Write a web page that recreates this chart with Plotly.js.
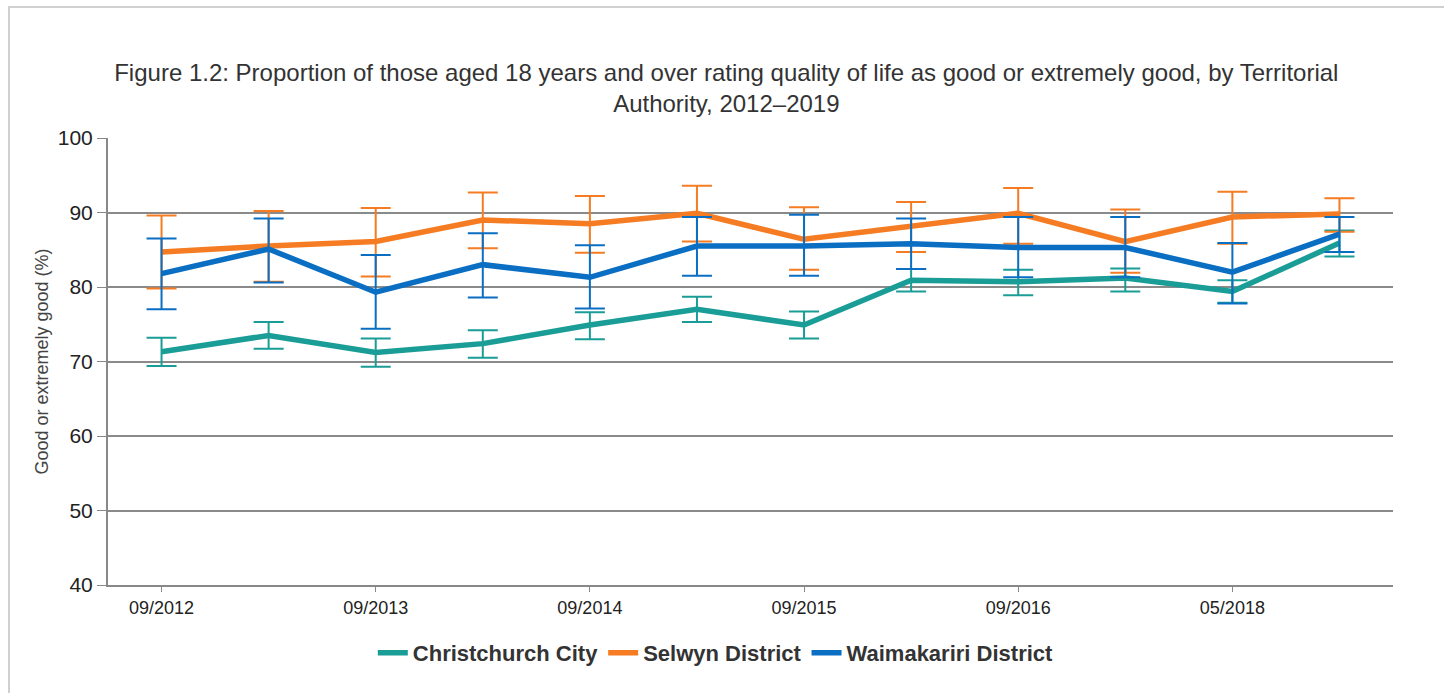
<!DOCTYPE html>
<html><head><meta charset="utf-8">
<script src="https://cdn.plot.ly/plotly-3.0.1.min.js"></script>
<style>
html,body{margin:0;padding:0;background:#fff;}
#frame{position:absolute;left:8px;top:6px;width:1440px;height:700px;border:2px solid #d0d0d0;border-right:none;border-bottom:none;box-sizing:border-box;}
#chart{position:absolute;left:0;top:0;width:1444px;height:693px;}
</style></head>
<body>
<div id="frame"></div>
<div id="chart"></div>
<script>
const categories = ["09/2012","03/2013","09/2013","03/2014","09/2014","03/2015","09/2015","03/2016","09/2016","03/2017","05/2018","2019"];
const tickLabels = ["09/2012","09/2013","09/2014","09/2015","09/2016","05/2018"];

const chchValues = [71.3, 73.5, 71.2, 72.4, 74.9, 77.0, 74.9, 80.9, 80.7, 81.2, 79.4, 85.9];
const chchUpper  = [73.2, 75.3, 73.1, 74.2, 76.6, 78.7, 76.7, 82.4, 82.3, 82.5, 80.9, 87.6];
const chchLower  = [69.4, 71.7, 69.3, 70.5, 73.0, 75.3, 73.1, 79.4, 78.9, 79.4, 77.9, 84.1];

const selwynValues = [84.7, 85.5, 86.1, 89.0, 88.5, 89.9, 86.4, 88.1, 89.9, 86.1, 89.4, 89.8];
const selwynUpper  = [89.6, 90.2, 90.6, 92.7, 92.2, 93.6, 90.7, 91.4, 93.3, 90.4, 92.8, 91.9];
const selwynLower  = [79.8, 80.7, 81.4, 85.2, 84.6, 86.1, 82.3, 84.7, 85.8, 81.9, 85.8, 87.4];

const waimakValues = [81.8, 85.1, 79.3, 83.0, 81.3, 85.5, 85.5, 85.8, 85.3, 85.3, 82.0, 87.1];
const waimakUpper  = [86.5, 89.2, 84.3, 87.2, 85.6, 89.4, 89.7, 89.2, 89.4, 89.4, 85.9, 89.4];
const waimakLower  = [77.0, 80.6, 74.4, 78.6, 77.1, 81.5, 81.5, 82.4, 81.3, 81.3, 77.8, 84.7];

function mk(name, vals, up, lo, color){
  return {
    type:'scatter', mode:'lines', name:name, x:categories, y:vals,
    line:{color:color, width:5.5},
    error_y:{type:'data', symmetric:false,
      array: up.map((u,i)=>+(u-vals[i]).toFixed(2)),
      arrayminus: lo.map((l,i)=>+(vals[i]-l).toFixed(2)),
      color:color, thickness:2, width:15},
    hoverinfo:'x+y+name'
  };
}

const data = [
  mk('Christchurch City', chchValues, chchUpper, chchLower, '#1a9d96'),
  mk('Selwyn District', selwynValues, selwynUpper, selwynLower, '#f57c22'),
  mk('Waimakariri District', waimakValues, waimakUpper, waimakLower, '#0a6ec3')
];

const layout = {
  width:1444, height:693,
  paper_bgcolor:'rgba(0,0,0,0)', plot_bgcolor:'rgba(0,0,0,0)',
  margin:{l:108, r:51, t:138, b:108},
  font:{family:'"Liberation Sans", Arial, sans-serif', color:'#333'},
  title:{text:'Figure 1.2: Proportion of those aged 18 years and over rating quality of life as good or extremely good, by Territorial<br>Authority, 2012–2019',
    font:{size:24, color:'#333'}, x:0.503, xref:'container', xanchor:'center', y:0.883, yanchor:'middle'},
  xaxis:{type:'category', range:[-0.5, 11.5], tickmode:'array', tickvals:tickLabels, ticktext:tickLabels,
    showgrid:false, showline:true, linecolor:'#888', linewidth:2, ticks:'outside', ticklen:5, tickcolor:'#888', tickwidth:1,
    tickfont:{size:18, color:'#222'}, zeroline:false, fixedrange:true},
  yaxis:{range:[40,100], dtick:10, showgrid:true, gridcolor:'#8a8a8a', gridwidth:1.5,
    showline:true, linecolor:'#888', linewidth:2, ticks:'outside', ticklen:9, tickcolor:'#888',
    tickfont:{size:21, color:'#222'}, zeroline:false,
    title:{text:'Good or extremely good (%)', font:{size:18, color:'#444'}, standoff:4}},
  legend:{orientation:'h', x:0.473, xanchor:'center', y:-0.152, yanchor:'middle',
    font:{size:22, color:'#333', weight:'bold'}, itemwidth:30, traceorder:'normal'},
  showlegend:true
};

Plotly.newPlot('chart', data, layout, {displayModeBar:false, staticPlot:false});
</script>
</body></html>
